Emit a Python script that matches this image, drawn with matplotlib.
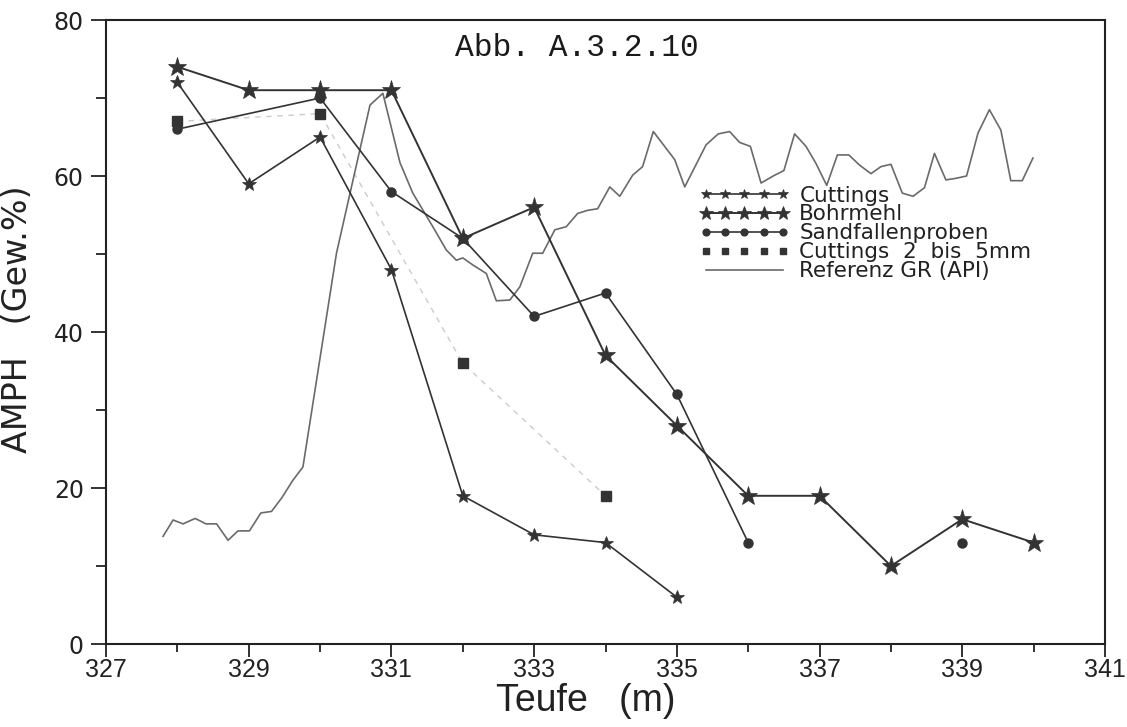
import numpy as np
import matplotlib
matplotlib.use("Agg")
import matplotlib.pyplot as plt

# --- data -------------------------------------------------------------------
cut_x = [328, 329, 330, 331, 332, 333, 334, 335]
cut_y = [72, 59, 65, 48, 19, 14, 13, 6]

bohr_x = [328, 329, 330, 331, 332, 333, 334, 335, 336, 337, 338, 339, 340]
bohr_y = [74, 71, 71, 71, 52, 56, 37, 28, 19, 19, 10, 16, 13]

sand_x = [328, 330, 331, 332, 333, 334, 335, 336]
sand_y = [66, 70, 58, 52, 42, 45, 32, 13]
sand_extra_x = [339]
sand_extra_y = [13]

fine_x = [328, 330, 332, 334]
fine_y = [67, 68, 36, 19]

gr_x = [327.80, 327.94, 328.08, 328.25, 328.40, 328.55, 328.71, 328.85, 329.01,
        329.17, 329.32, 329.46, 329.62, 329.76, 330.23, 330.42, 330.70, 330.88,
        331.12, 331.30, 331.58, 331.77, 331.91, 332.00, 332.14, 332.33, 332.47,
        332.66, 332.80, 332.98, 333.12, 333.29, 333.45, 333.61, 333.75, 333.89,
        334.06, 334.20, 334.38, 334.52, 334.67, 334.97, 335.11, 335.41, 335.58,
        335.74, 335.88, 336.03, 336.18, 336.35, 336.50, 336.65, 336.81, 336.95,
        337.10, 337.25, 337.41, 337.56, 337.72, 337.86, 338.00, 338.16, 338.31,
        338.47, 338.61, 338.77, 338.91, 339.06, 339.22, 339.38, 339.54, 339.68,
        339.84, 339.99]
gr_y = [13.8, 15.9, 15.4, 16.1, 15.4, 15.4, 13.3, 14.5, 14.5,
        16.8, 17.0, 18.7, 21.0, 22.7, 50.1, 57.8, 69.1, 70.6,
        61.7, 57.8, 53.5, 50.5, 49.2, 49.5, 48.6, 47.5, 44.0,
        44.1, 45.8, 50.1, 50.1, 53.1, 53.5, 55.2, 55.6, 55.8,
        58.6, 57.4, 60.1, 61.2, 65.7, 62.1, 58.6, 64.0, 65.4,
        65.7, 64.3, 63.8, 59.1, 60.0, 60.7, 65.4, 63.8, 61.6,
        58.8, 62.7, 62.7, 61.4, 60.3, 61.2, 61.5, 57.8, 57.4,
        58.5, 62.9, 59.5, 59.7, 60.0, 65.5, 68.5, 65.9, 59.4,
        59.4, 62.3]

x_major = [327, 329, 331, 333, 335, 337, 339, 341]
x_minor = [328, 330, 332, 334, 336, 338, 340]
y_major = [0, 20, 40, 60, 80]
y_minor = [10, 30, 50, 70]

# --- figure ------------------------------------------------------------------
plt.rcParams["font.family"] = ["DejaVu Sans"]
ink = "#333333"
frame = "#222222"

fig = plt.figure(figsize=(11.27, 7.27), dpi=100)
ax = fig.add_axes([106 / 1127, 83 / 727, 999 / 1127, 624 / 727])

ax.plot(gr_x, gr_y, color="#6a6a6a", lw=1.2, label="Referenz GR (API)", zorder=2)
ax.plot(fine_x, fine_y, color="#cccccc", lw=1.0, ls=(0, (4, 4)), zorder=1)

ax.plot(cut_x, cut_y, color=ink, lw=1.2, marker="*", ms=10, mew=0.5,
        label="Cuttings", zorder=3)
ax.plot(bohr_x, bohr_y, color=ink, lw=1.4, marker="*", ms=14, mew=0.5,
        label="Bohrmehl", zorder=3)
ax.plot(sand_x, sand_y, color=ink, lw=1.2, marker="o", ms=6.5,
        label="Sandfallenproben", zorder=3)
ax.plot(sand_extra_x, sand_extra_y, color=ink, ls="none", marker="o", ms=6.5, zorder=3)
ax.plot(fine_x, fine_y, color=ink, ls="none", marker="s", ms=6.5,
        label="Cuttings  2  bis  5mm", zorder=3)

ax.set_xlim(327, 341)
ax.set_ylim(0, 80)

ax.set_xticks(x_major)
ax.set_xticklabels([str(v) for v in x_major], family=["Liberation Sans"])
ax.set_xticks(x_minor, minor=True)
ax.set_yticks(y_major)
ax.set_yticks(y_minor, minor=True)
ax.tick_params(axis="both", which="major", direction="out", width=1.3,
               labelsize=18, color=frame, labelcolor=frame)
ax.tick_params(axis="x", which="major", length=9, pad=1)
ax.tick_params(axis="x", which="minor", direction="out", length=6, width=1.3,
               color=frame)
ax.tick_params(axis="y", which="major", length=11, pad=5, labelsize=17)
ax.tick_params(axis="y", which="minor", direction="out", length=7, width=1.3,
               color=frame)

for s in ax.spines.values():
    s.set_linewidth(1.5)
    s.set_color(frame)

ax.set_xlabel("Teufe   (m)", fontsize=27, color=frame, family=["Liberation Sans"])
ax.xaxis.set_label_coords(0.48, -0.062)
ax.set_ylabel("AMPH   (Gew.%)", fontsize=24, color=frame)
ax.yaxis.set_label_coords(-0.072, 0.52)

ax.text(333.6, 76.4, "Abb. A.3.2.10", family="Liberation Mono", fontsize=22.5,
        ha="center", va="center", color="#1a1a1a")

handles, labels = ax.get_legend_handles_labels()
order = ["Cuttings", "Bohrmehl", "Sandfallenproben", "Cuttings  2  bis  5mm",
         "Referenz GR (API)"]
hmap = dict(zip(labels, handles))
leg = ax.legend([hmap[k] for k in order], order, loc="upper left",
                bbox_to_anchor=(0.583, 0.752), frameon=False, fontsize=15.5,
                numpoints=5, handlelength=4.2, handletextpad=0.45,
                labelspacing=-0.05, borderpad=0, markerscale=0.75)
for txt in leg.get_texts():
    txt.set_color(frame)

fig.savefig("out.png", dpi=100)
